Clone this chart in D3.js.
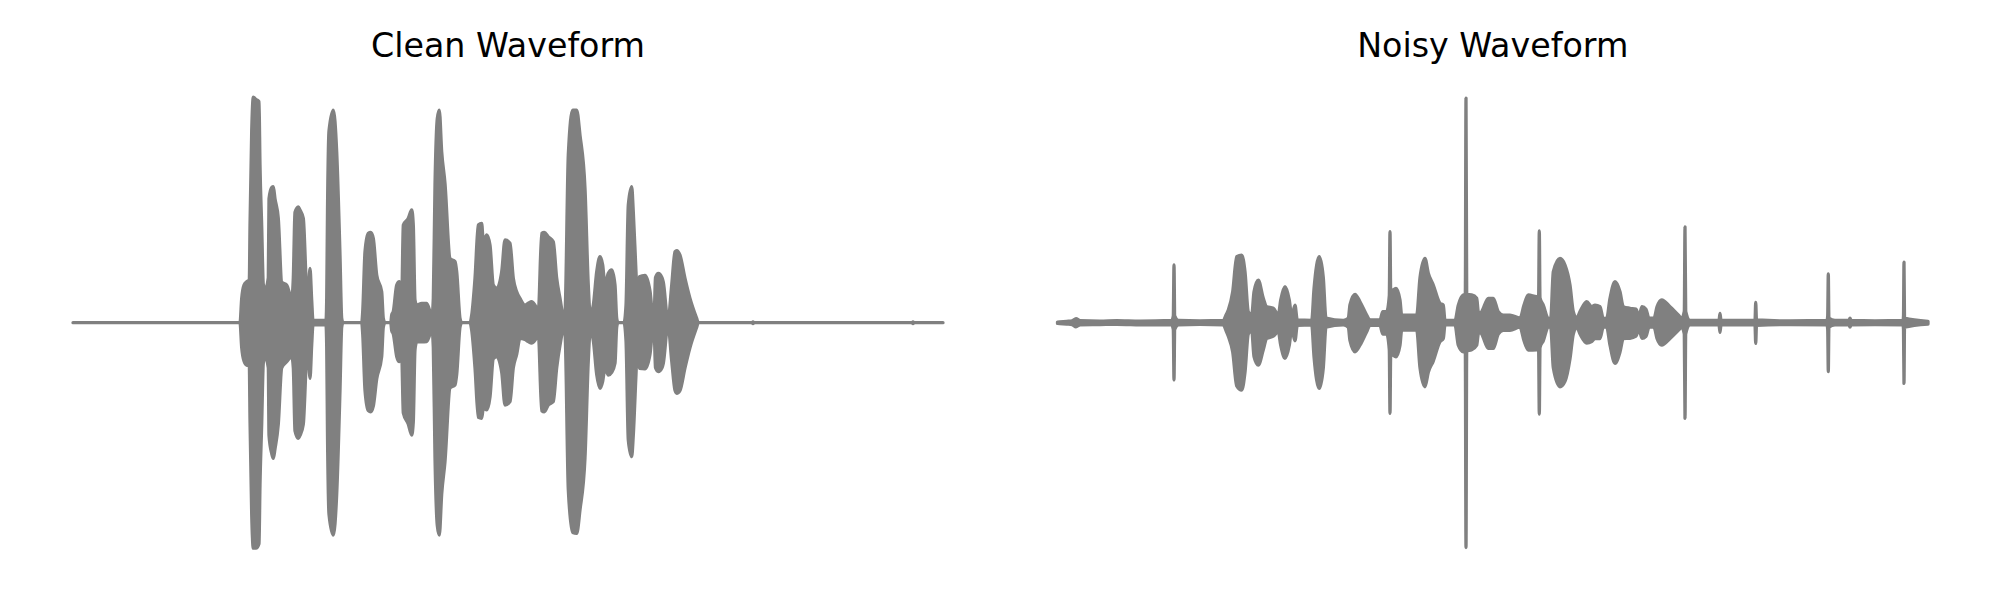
<!DOCTYPE html>
<html>
<head>
<meta charset="utf-8">
<script src="https://cdn.jsdelivr.net/npm/d3@7"></script>
<style>
  html, body { margin: 0; padding: 0; background: #ffffff; }
  svg { display: block; }
</style>
</head>
<body>
<svg id="chart" width="2000" height="600"></svg>
<script>
// ---------- DATA ----------
const titles = ["Clean Waveform", "Noisy Waveform"];

// Clean waveform envelope: time (s), upper amplitude, lower amplitude (magnitude)
const cleanTime = [0.00,1.67,1.687,1.71,1.737,1.763,1.77,1.787,1.803,1.83,1.86,1.87,1.887,1.903,1.92,1.953,1.96,1.987,2.003,2.02,2.053,2.087,2.137,2.187,2.203,2.22,2.253,2.27,2.303,2.337,2.347,2.37,2.387,2.40,2.53,2.537,2.545,2.56,2.603,2.637,2.67,2.687,2.70,
2.887,2.897,2.92,2.953,2.977,3.003,3.037,3.087,3.103,3.12,3.177,3.187,3.203,3.237,3.263,3.287,3.303,3.353,3.387,3.403,3.42,3.437,3.487,3.537,3.57,3.587,3.603,3.62,3.643,3.663,3.687,3.72,3.77,3.82,3.837,3.87,3.887,3.97,3.987,4.02,4.053,4.087,4.103,4.137,4.17,4.203,4.237,4.287,4.32,4.37,4.403,4.437,4.47,4.52,4.553,4.587,4.637,4.653,4.687,4.713,4.753,4.803,4.837,4.87,4.903,4.92,4.953,4.997,5.037,5.07,5.12,5.153,5.17,5.187,5.203,5.237,5.27,5.297,5.32,5.353,5.387,5.42,5.437,5.45,5.51,5.53,5.553,5.587,5.603,5.63,5.643,5.663,5.72,5.77,5.803,5.813,5.825,5.853,5.89,5.903,5.95,5.987,6.02,6.037,6.07,6.12,6.17,6.237,6.253,6.79,6.80,6.81,8.39,8.40,8.41,8.70];
const cleanUpper = [0,0,0.108,0.167,0.182,0.19,0.43,0.85,1.0,0.99,0.98,0.70,0.43,0.17,0.145,0.2,0.55,0.60,0.603,0.55,0.463,0.18,0.167,0.108,0.2,0.49,0.514,0.50,0.463,0.137,0.1,0.241,0.1,0.01,0.01,0.108,0.5,0.85,0.943,0.758,0.3,0.02,0,
0,0.05,0.315,0.396,0.40,0.374,0.212,0.137,0.02,0,0,0.035,0.05,0.167,0.182,0.108,0.433,0.463,0.5,0.433,0.1,0.078,0.086,0.086,0.049,0.02,0.108,0.61,0.906,0.943,0.758,0.618,0.285,0.271,0.226,0.02,0,0,0.034,0.197,0.433,0.44,0.359,0.389,0.344,0.167,0.152,0.226,0.367,0.352,0.197,0.137,0.108,0.078,0.086,0.093,0.064,0.049,0.396,0.40,0.381,0.359,0.197,0.108,0.034,0.049,0.744,0.943,0.943,0.832,0.596,0.167,0.049,0.05,0.078,0.226,0.293,0.256,0.167,0.219,0.234,0.167,0.02,0,0,0.078,0.522,0.603,0.492,0.226,0.108,0.204,0.21,0.14,0.02,0.05,0.2,0.219,0.2,0.18,0.01,0.167,0.315,0.32,0.30,0.197,0.108,0.019,0,0,0.004,0,0,0.004,0,0];
const cleanLower = [0,0,0.11,0.17,0.188,0.19,0.43,0.85,1.0,1.0,0.98,0.72,0.45,0.18,0.15,0.2,0.5,0.58,0.602,0.56,0.45,0.2,0.173,0.15,0.2,0.48,0.513,0.5,0.45,0.14,0.1,0.247,0.1,0.01,0.01,0.11,0.5,0.85,0.942,0.76,0.3,0.02,0,
0,0.05,0.3,0.39,0.395,0.37,0.25,0.15,0.02,0,0,0.035,0.05,0.15,0.173,0.15,0.4,0.45,0.498,0.44,0.12,0.085,0.085,0.084,0.05,0.02,0.11,0.6,0.9,0.942,0.76,0.616,0.29,0.276,0.23,0.02,0,0,0.034,0.2,0.42,0.424,0.38,0.387,0.33,0.16,0.15,0.22,0.365,0.35,0.2,0.14,0.069,0.075,0.084,0.09,0.065,0.05,0.39,0.395,0.365,0.35,0.2,0.1,0.034,0.05,0.74,0.93,0.934,0.83,0.6,0.17,0.05,0.05,0.08,0.23,0.291,0.26,0.2,0.232,0.22,0.18,0.02,0,0,0.08,0.52,0.594,0.5,0.23,0.11,0.203,0.205,0.14,0.02,0.05,0.2,0.217,0.2,0.18,0.01,0.17,0.3,0.313,0.3,0.2,0.11,0.02,0,0,0.004,0,0,0.004,0,0];

// Noisy waveform envelope: time (s), upper amplitude, lower amplitude (magnitude)
const noisyTime = [0.00,0.092,0.145,0.185,0.225,0.425,0.592,0.825,1.142,1.158,1.165,1.172,1.208,1.425,1.658,1.685,1.708,1.752,1.792,1.842,1.875,1.908,1.942,1.965,2.008,2.058,2.092,2.158,2.208,2.232,2.275,2.318,2.342,2.375,2.398,2.542,2.565,2.618,2.658,2.685,2.858,2.908,2.925,2.975,3.025,3.092,3.125,3.225,3.252,3.292,3.318,3.325,3.332,3.385,3.425,3.442,3.592,3.625,3.675,3.708,3.758,3.825,3.858,3.875,3.975,4.008,4.058,4.078,4.085,4.092,4.142,4.192,4.208,4.225,4.242,4.308,4.358,4.408,4.458,4.525,4.625,4.665,4.708,4.792,4.811,4.818,4.825,4.858,4.908,4.932,4.958,5.025,5.075,5.125,5.158,5.192,5.225,5.292,5.342,5.375,5.425,5.458,5.492,5.525,5.575,5.625,5.658,5.725,5.785,5.815,5.845,5.885,5.915,5.965,5.995,6.042,6.125,6.208,6.242,6.268,6.275,6.282,6.325,6.615,6.625,6.635,6.975,6.982,6.99,7.325,7.695,7.702,7.708,7.714,7.775,7.915,7.925,7.935,8.175,8.455,8.46,8.465,8.47,8.705];
const noisyUpper = [0.003,0.006,0.008,0.018,0.009,0.007,0.009,0.007,0.010,0.03,0.256,0.03,0.010,0.008,0.010,0.034,0.056,0.137,0.293,0.3,0.226,0.049,0.034,0.137,0.189,0.108,0.071,0.064,0.034,0.1,0.16,0.1,0.03,0.078,0.012,0.010,0.15,0.293,0.2,0.02,0.010,0.02,0.08,0.126,0.093,0.034,0.012,0.012,0.049,0.05,0.12,0.404,0.14,0.152,0.1,0.034,0.034,0.2,0.285,0.22,0.167,0.086,0.078,0.010,0.010,0.078,0.123,0.125,0.996,0.125,0.123,0.108,0.049,0.04,0.049,0.108,0.108,0.049,0.034,0.034,0.02,0.078,0.123,0.115,0.115,0.407,0.11,0.078,0.019,0.02,0.226,0.285,0.256,0.167,0.049,0.02,0.049,0.093,0.071,0.078,0.071,0.019,0.02,0.108,0.182,0.137,0.071,0.064,0.06,0.03,0.071,0.06,0.02,0.02,0.07,0.101,0.071,0.034,0.02,0.05,0.425,0.05,0.010,0.010,0.041,0.010,0.010,0.09,0.012,0.008,0.010,0.03,0.216,0.02,0.010,0.010,0.02,0.010,0.008,0.010,0.03,0.268,0.02,0.006];
const noisyLower = [0.003,0.006,0.008,0.018,0.009,0.008,0.007,0.009,0.010,0.03,0.254,0.03,0.010,0.007,0.010,0.035,0.06,0.13,0.28,0.299,0.22,0.05,0.035,0.15,0.188,0.12,0.07,0.06,0.04,0.1,0.158,0.1,0.03,0.08,0.012,0.010,0.15,0.291,0.2,0.02,0.010,0.02,0.08,0.129,0.1,0.04,0.012,0.012,0.05,0.05,0.12,0.402,0.14,0.151,0.1,0.033,0.033,0.2,0.284,0.22,0.17,0.084,0.07,0.010,0.010,0.1,0.129,0.125,0.997,0.125,0.12,0.1,0.05,0.04,0.05,0.114,0.114,0.05,0.034,0.034,0.02,0.08,0.121,0.12,0.115,0.405,0.11,0.08,0.019,0.02,0.2,0.284,0.26,0.16,0.05,0.02,0.05,0.09,0.084,0.07,0.07,0.019,0.02,0.1,0.18,0.13,0.07,0.069,0.06,0.03,0.069,0.06,0.02,0.02,0.07,0.099,0.07,0.034,0.02,0.05,0.424,0.05,0.010,0.010,0.043,0.010,0.010,0.092,0.012,0.008,0.010,0.03,0.217,0.02,0.010,0.010,0.02,0.010,0.008,0.010,0.03,0.269,0.02,0.006];

// ---------- DRAWING ----------
const svg = d3.select("#chart");
const color = "#808080";

const panels = [
  { title: titles[0], t: cleanTime, up: cleanUpper, lo: cleanLower, x0: 73, x1: 943 },
  { title: titles[1], t: noisyTime, up: noisyUpper, lo: noisyLower, x0: 1057.5, x1: 1928 }
];

const y = d3.scaleLinear().domain([-1, 1]).range([548.2, 97.2]);

panels.forEach(p => {
  const x = d3.scaleLinear().domain([0, 8.7]).range([p.x0, p.x0 + (p.x1 - p.x0) * 8.7 / d3.max(p.t)]);
  const pts = p.t.map((t, i) => ({ t, up: p.up[i], lo: p.lo[i] }));
  const area = d3.area()
    .x(d => x(d.t))
    .y0(d => y(-d.lo))
    .y1(d => y(d.up))
    .curve(d3.curveMonotoneX);

  const g = svg.append("g");
  g.append("path")
    .datum(pts)
    .attr("d", area)
    .attr("fill", color)
    .attr("stroke", color)
    .attr("stroke-width", 3.3)
    .attr("stroke-linejoin", "round")
    .attr("stroke-linecap", "round");

  svg.append("text")
    .attr("x", (p.x0 + p.x1) / 2)
    .attr("y", 57)
    .attr("text-anchor", "middle")
    .attr("font-family", "DejaVu Sans")
    .attr("font-size", "33.3px")
    .attr("fill", "#000000")
    .text(p.title);
});
</script>
</body>
</html>
